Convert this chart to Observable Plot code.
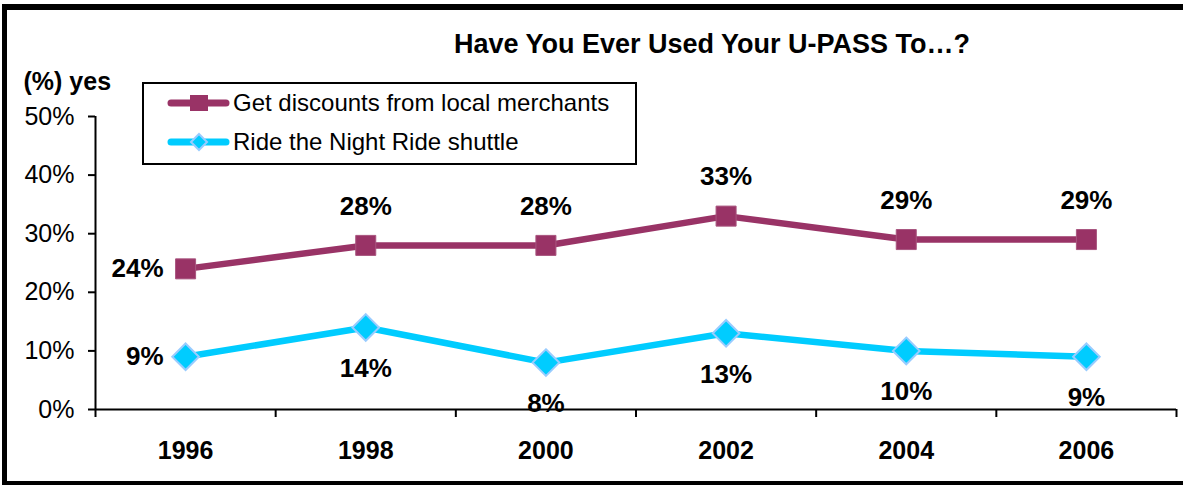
<!DOCTYPE html>
<html><head><meta charset="utf-8">
<script src="https://cdn.jsdelivr.net/npm/d3@7"></script>
<script src="https://cdn.jsdelivr.net/npm/@observablehq/plot@0.6"></script>
<style>body{margin:0;background:#fff} #chart{width:1183px;height:485px}</style>
</head><body><div id="chart"></div>
<script>
// ---- data ----
const years = [1996, 1998, 2000, 2002, 2004, 2006];
const seriesNames = ["Get discounts from local merchants", "Ride the Night Ride shuttle"];
const discounts = [24, 28, 28, 33, 29, 29];
const nightRide = [9, 14, 8, 13, 10, 9];
const yTicks = [0, 10, 20, 30, 40, 50];
const titleText = "Have You Ever Used Your U-PASS To…?";
const yLabelText = "(%) yes";

// ---- styling ----
const maroon = "#993366", cyan = "#00CCFF", cyanEdge = "#99CCFF";
const font = "'Liberation Sans', Arial, Helvetica, sans-serif";

const rows = [
  ...years.map((y, i) => ({year: y, value: discounts[i], series: 0, idx: i})),
  ...years.map((y, i) => ({year: y, value: nightRide[i], series: 1, idx: i}))
];
const xDomain = [years[0] - 1, years[years.length - 1] + 1];
const bounds = d3.range(xDomain[0], xDomain[1] + 1, 2);
const fmt = d => d + "%";

const s0 = rows.filter(d => d.series === 0);
const s1 = rows.filter(d => d.series === 1);
const leftLabels = rows.filter(d => d.idx === 0);
const aboveLabels = s0.filter(d => d.idx !== 0);
const belowLabels = s1.filter(d => d.idx !== 0);

const plot = Plot.plot({
  width: 1183, height: 485,
  marginLeft: 95, marginRight: 7, marginTop: 116, marginBottom: 76,
  style: {fontFamily: font, fontSize: "25px", color: "black", background: "white"},
  x: {type: "linear", domain: xDomain, label: null},
  y: {domain: [0, 50], label: null},
  marks: [
    Plot.axisY({ticks: yTicks, tickFormat: fmt, tickSize: 7, tickPadding: 14, strokeWidth: 2, fontSize: 25, label: null}),
    Plot.axisX({ticks: bounds, tickFormat: () => "", tickSize: 8, strokeWidth: 2, label: null}),
    Plot.axisX({ticks: years, tickFormat: d => String(d), tickSize: 0, tickPadding: 32, fontWeight: "bold", fontSize: 25, label: null}),
    Plot.ruleX([xDomain[0]], {strokeWidth: 2, stroke: "black"}),
    Plot.ruleY([0], {strokeWidth: 2, stroke: "black"}),
    Plot.line(s0, {x: "year", y: "value", stroke: maroon, strokeWidth: 6.5}),
    Plot.line(s1, {x: "year", y: "value", stroke: cyan, strokeWidth: 6.5}),
    Plot.dot(s0, {x: "year", y: "value", symbol: "square", r: 11.3, fill: maroon, stroke: "#a8557f", strokeWidth: 1}),
    Plot.dot(s1, {x: "year", y: "value", symbol: "diamond2", r: 12, fill: cyan, stroke: cyanEdge, strokeWidth: 2}),
    Plot.text(leftLabels, {x: "year", y: "value", text: d => fmt(d.value), textAnchor: "end", dx: -22, fontWeight: "bold", fontSize: 26}),
    Plot.text(aboveLabels, {x: "year", y: "value", text: d => fmt(d.value), dy: -39, fontWeight: "bold", fontSize: 26}),
    Plot.text(belowLabels, {x: "year", y: "value", text: d => fmt(d.value), dy: 41, fontWeight: "bold", fontSize: 26}),
    Plot.text([titleText], {frameAnchor: "top", lineAnchor: "middle", dx: 76, dy: -72, fontWeight: "bold", fontSize: 27}),
    Plot.text([yLabelText], {frameAnchor: "top-left", lineAnchor: "middle", textAnchor: "start", dx: -72, dy: -35, fontWeight: "bold", fontSize: 25})
  ]
});

// ---- legend & outer border ----
const svg = d3.select(plot);
const lg = svg.append("g").attr("text-anchor", "start");
lg.append("rect").attr("x", 143).attr("y", 83).attr("width", 493).attr("height", 81)
  .attr("fill", "white").attr("stroke", "black").attr("stroke-width", 2);
const legendItems = [
  {name: seriesNames[0], color: maroon, marker: "square"},
  {name: seriesNames[1], color: cyan, marker: "diamond"}
];
legendItems.forEach((it, i) => {
  const cy = 103 + i * 39;
  lg.append("line").attr("x1", 171).attr("x2", 226).attr("y1", cy).attr("y2", cy)
    .attr("stroke", it.color).attr("stroke-width", 7).attr("stroke-linecap", "round");
  if (it.marker === "square") {
    lg.append("rect").attr("x", 190).attr("y", cy - 8).attr("width", 18).attr("height", 16).attr("fill", it.color);
  } else {
    lg.append("path").attr("d", `M199,${cy - 8}L207,${cy}L199,${cy + 8}L191,${cy}Z`)
      .attr("fill", it.color).attr("stroke", cyanEdge).attr("stroke-width", 2);
  }
  lg.append("text").attr("x", 233).attr("y", cy).attr("dy", "0.35em").attr("text-anchor", "start")
    .attr("font-size", 24).attr("fill", "black").text(it.name);
});
svg.append("rect").attr("x", 2).attr("y", 4).attr("width", 1181).attr("height", 6).attr("fill", "black");
svg.append("rect").attr("x", 2).attr("y", 4).attr("width", 5).attr("height", 481).attr("fill", "black");
svg.append("rect").attr("x", 2).attr("y", 481).attr("width", 1181).attr("height", 4).attr("fill", "black");

document.getElementById("chart").appendChild(plot);
</script>
</body></html>
